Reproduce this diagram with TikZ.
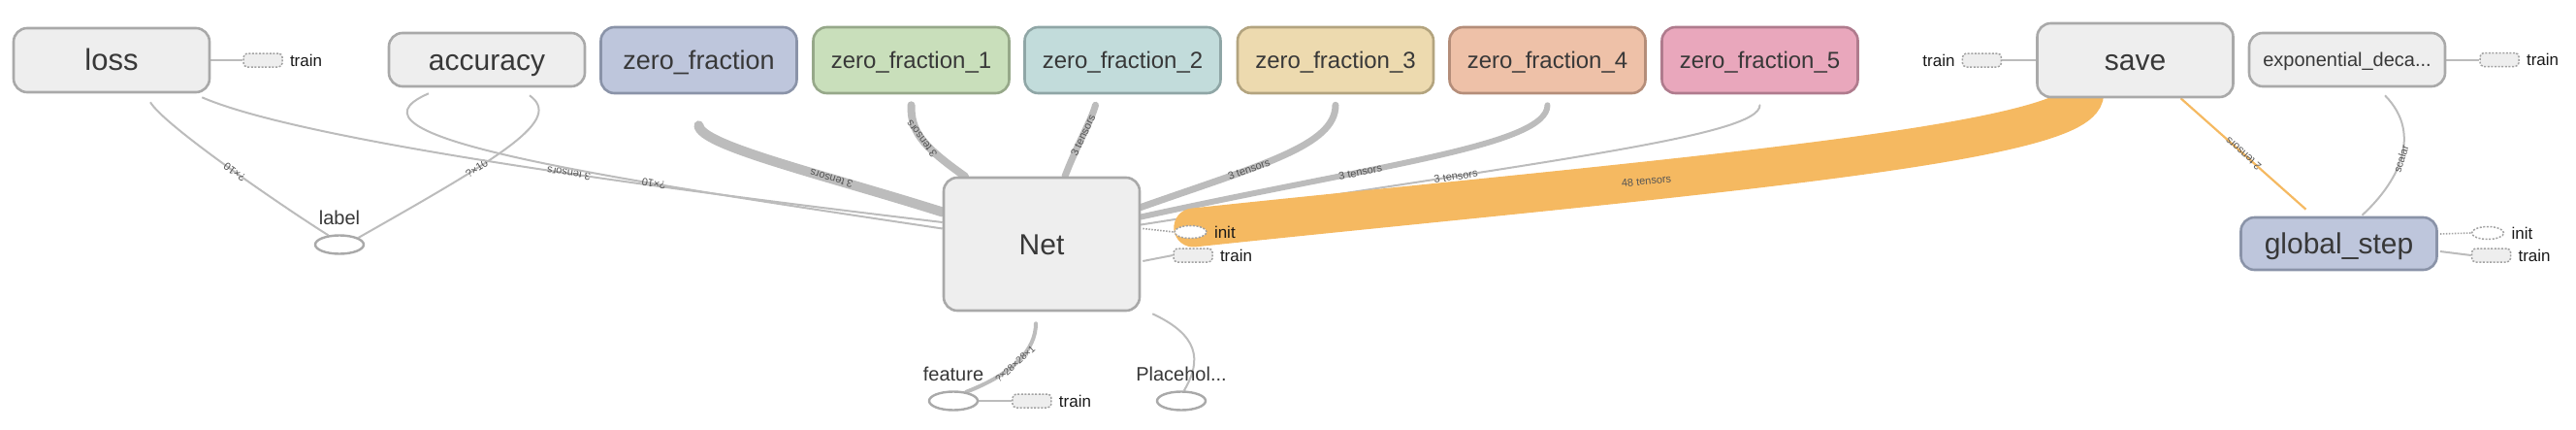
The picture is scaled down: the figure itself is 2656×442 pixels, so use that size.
\documentclass[tikz,border=0pt]{standalone}
\usepackage{fontspec}
\setmainfont{Liberation Sans}
\usetikzlibrary{positioning,shapes.geometric}
\pgfdeclarelayer{edges}
\pgfsetlayers{edges,main}
\definecolor{boxfill}{HTML}{EEEEEE}
\definecolor{boxline}{HTML}{A9A9A9}
\definecolor{tagline}{HTML}{A2A2A2}
\definecolor{nodetext}{HTML}{383838}
\definecolor{edgetext}{HTML}{555555}
\definecolor{edgegray}{HTML}{BCBCBC}
\definecolor{floworange}{HTML}{F5B961}
\definecolor{zfafill}{HTML}{BEC6DC}
\definecolor{zfaline}{HTML}{8A93A8}
\definecolor{zfbfill}{HTML}{C9DFBB}
\definecolor{zfbline}{HTML}{96A889}
\definecolor{zfcfill}{HTML}{C2DCDB}
\definecolor{zfcline}{HTML}{8FA6A6}
\definecolor{zfdfill}{HTML}{EDDAAF}
\definecolor{zfdline}{HTML}{B3A47F}
\definecolor{zfefill}{HTML}{EEC1A8}
\definecolor{zfeline}{HTML}{B48D79}
\definecolor{zfffill}{HTML}{E9A7BC}
\definecolor{zffline}{HTML}{AF7B8D}

\begin{document}
\begin{tikzpicture} [
        x = 1pt, y = -1pt,
        opbox/.style = { draw = boxline, fill = boxfill, line width = 2.6pt, rounded corners = 14pt, text = nodetext, minimum width = 202pt, inner sep = 0, text depth = 0pt },
        big/.style = { font = \fontsize{30}{30}\selectfont, text height = 21.5pt },
        mid/.style = { font = \fontsize{27}{27}\selectfont, text height = 19.5pt },
        small/.style = { font = \fontsize{24}{24}\selectfont, text height = 17.5pt },
        tiny/.style = { font = \fontsize{20}{20}\selectfont, text height = 14.5pt },
        tagbox/.style = { draw = tagline, fill = boxfill, dash pattern = on 2pt off 1.6pt, line width = 1.5pt, rounded corners = 4pt, minimum width = 40pt, minimum height = 14pt, inner sep = 0 },
        tagell/.style = { ellipse, draw = tagline, fill = white, dash pattern = on 2pt off 1.6pt, line width = 1.5pt, minimum width = 33pt, minimum height = 13pt, inner sep = 0 },
        tagtext/.style = { inner sep = 0, text = black!90, font = \fontsize{17}{17}\selectfont },
        leaf/.style = { ellipse, draw = boxline, fill = white, line width = 2.4pt, minimum width = 50pt, minimum height = 19pt, inner sep = 0 },
        leaftext/.style = { inner sep = 0, text = nodetext, font = \fontsize{20}{20}\selectfont },
        flow/.style = { draw = edgegray, line width = 2pt },
        ctrl/.style = { draw = tagline, line width = 1.6pt, dash pattern = on 1.5pt off 1.5pt },
        band/.style = { draw = floworange, line width = 40pt, line cap = round },
        elbl/.style = { sloped, allow upside down, inner sep = 0, text = edgetext, font = \fontsize{11}{11}\selectfont }
        ]
    \useasboundingbox (0,0) rectangle (2656,442);

    % op nodes
    \node [opbox, big, minimum height = 66pt, font = \fontsize{31}{31}\selectfont] (loss) at (115,62) {loss};
    \node [opbox, big, minimum height = 55pt] (acc) at (502,61.5) {accuracy};
    \node [opbox, mid, fill = zfafill, draw = zfaline, minimum height = 68pt] (zf) at (720.5,62) {zero\_fraction};
    \node [opbox, small, fill = zfbfill, draw = zfbline, minimum height = 68pt] (zf1) at (939.5,62) {zero\_fraction\_1};
    \node [opbox, small, fill = zfcfill, draw = zfcline, minimum height = 68pt] (zf2) at (1157.5,62) {zero\_fraction\_2};
    \node [opbox, small, fill = zfdfill, draw = zfdline, minimum height = 68pt] (zf3) at (1377,62) {zero\_fraction\_3};
    \node [opbox, small, fill = zfefill, draw = zfeline, minimum height = 68pt] (zf4) at (1595.5,62) {zero\_fraction\_4};
    \node [opbox, small, fill = zfffill, draw = zffline, minimum height = 68pt] (zf5) at (1814.5,62) {zero\_fraction\_5};
    \node [opbox, big, minimum height = 137pt] (net) at (1074,251.5) {Net};
    \node [opbox, big, minimum height = 76pt] (save) at (2201.5,62) {save};
    \node [opbox, tiny, minimum height = 55pt] (expd) at (2420,61.5) {exponential\_deca...};
    \node [opbox, big, fill = zfafill, draw = zfaline, minimum height = 54pt] (gstep) at (2411.5,251) {global\_step};

    % placeholders
    \node [leaf] (lbl) at (350,252) {};
    \node [leaftext, above = 9pt of lbl] (lbltext) {label};
    \node [leaf] (feat) at (983,413) {};
    \node [leaftext, above = 9pt of feat] (feattext) {feature};
    \node [leaf] (ph) at (1218,413) {};
    \node [leaftext, above = 9pt of ph] (phtext) {Placehol...};

    % train / init tags
    \node [tagbox, right = 33pt of loss] (lt) {};
    \node [tagtext, right = 7pt of lt] {train};
    \node [tagell, right = 34pt of net, yshift = 12.5pt] (ni) {};
    \node [tagtext, right = 7pt of ni] {init};
    \node [tagbox, right = 33pt of net, yshift = -11.5pt] (nt) {};
    \node [tagtext, right = 7pt of nt] {train};
    \node [tagbox, right = 34pt of feat] (ft) {};
    \node [tagtext, right = 7pt of ft] {train};
    \node [tagbox, left = 35pt of save] (st) {};
    \node [tagtext, left = 7pt of st] {train};
    \node [tagbox, right = 34pt of expd] (et) {};
    \node [tagtext, right = 7pt of et] {train};
    \node [tagell, right = 34pt of gstep, yshift = 11pt] (gi) {};
    \node [tagtext, right = 7pt of gi] {init};
    \node [tagbox, right = 34pt of gstep, yshift = -12pt] (gt) {};
    \node [tagtext, right = 7pt of gt] {train};

    \begin{pgfonlayer}{edges}
    % data edges
    \draw [flow] (lbl.140) .. controls +(-40,-25) and +(15,25) .. ([shift={(40,9)}]loss.south)
        node [elbl, pos = 0.48] {?×10};
    \draw [flow] (lbl.20) .. controls +(150,-85) and +(35,25) .. ([shift={(44,8)}]acc.south)
        node [elbl, pos = 0.34] {?×10};
    \draw [flow] ([shift={(0,-22.5)}]net.west) .. controls (600,185) and (300,140) .. ([shift={(-9,4)}]loss.south east)
        node [elbl, pos = 0.38] {3 tensors};
    \draw [flow] ([shift={(0,-16)}]net.west) .. controls (600,180) and (340,140) .. ([shift={(-60,6)}]acc.south)
        node [elbl, pos = 0.3] {?×10};
    \draw [flow, line width = 10pt, line cap = round] ([shift={(0,-33)}]net.west) .. controls (850,180) and (722,150) .. ([shift={(0,32)}]zf.south)
        node [elbl, pos = 0.32] {3 tensors};
    \draw [flow, line width = 8pt, line cap = round] ([shift={(-79,0)}]net.north) .. controls (950,150) and (939,135) .. ([shift={(0,11)}]zf1.south)
        node [elbl, pos = 0.5] {3 tensors};
    \draw [flow, line width = 7pt, line cap = round] ([shift={(24,0)}]net.north) .. controls (1110,150) and (1125,125) .. ([shift={(-28,11)}]zf2.south)
        node [elbl, pos = 0.5] {3 tensors};
    \draw [flow, line width = 7pt, line cap = round] ([shift={(0,-38)}]net.east) .. controls (1300,170) and (1377,150) .. ([shift={(0,11)}]zf3.south)
        node [elbl, pos = 0.35] {3 tensors};
    \draw [flow, line width = 6pt, line cap = round] ([shift={(0,-28)}]net.east) .. controls (1420,170) and (1595.5,150) .. ([shift={(0,11)}]zf4.south)
        node [elbl, pos = 0.35] {3 tensors};
    \draw [flow, line cap = round] ([shift={(0,-20)}]net.east) .. controls (1600,165) and (1814.5,140) .. ([shift={(0,11)}]zf5.south)
        node [elbl, pos = 0.3] {3 tensors};
    \draw [flow, line width = 4pt, line cap = round] (feat.35) .. controls (1045,385) and (1068,360) .. ([shift={(-6,12)}]net.south)
        node [elbl, pos = 0.45, font = \fontsize{10}{10}\selectfont] {?×28×28×1};
    \draw [flow] (ph.75) .. controls (1240,370) and (1235,345) .. ([shift={(12,2)}]net.south east);
    \draw [flow] ([shift={(24,-1)}]gstep.north) .. controls (2470,190) and (2500,140) .. ([shift={(39,8)}]expd.south)
        node [elbl, pos = 0.5] {scalar};

    % tag links
    \draw [flow] (loss.east) -- (lt.west);
    \draw [ctrl] ([shift={(2,-16)}]net.east) -- (ni.west);
    \draw [flow] ([shift={(2,17.5)}]net.east) -- (nt.west);
    \draw [flow] (feat.east) -- (ft.west);
    \draw [flow] (st.east) -- (save.west);
    \draw [flow] (expd.east) -- (et.west);
    \draw [ctrl] ([shift={(2,-10)}]gstep.east) -- (gi.west);
    \draw [flow] ([shift={(2,8)}]gstep.east) -- (gt.west);

    % variables to save
    \draw [band] ([shift={(54,-17)}]net.east) .. controls (1700,185) and (2149,150) .. ([shift={(-52.5,-5)}]save.south)
        node [elbl, pos = 0.35] {48 tensors};
    \draw [flow, draw = floworange, line width = 2.2pt] ([shift={(-34,-7)}]gstep.north) -- ([shift={(47,0)}]save.south)
        node [elbl, pos = 0.5] {2 tensors};
    \end{pgfonlayer}
\end{tikzpicture}
\end{document}
